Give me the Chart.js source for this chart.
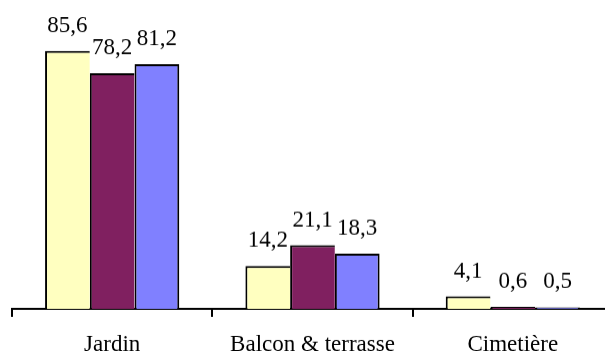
<!DOCTYPE html>
<html>
<head>
<meta charset="utf-8">
<script src="https://cdn.jsdelivr.net/npm/chart.js@4/dist/chart.umd.min.js"></script>
<style>
  html, body { margin: 0; padding: 0; background: #ffffff; overflow: hidden; }
  #wrap { position: relative; width: 614px; height: 371.5px; }
</style>
</head>
<body>
<div id="wrap"><canvas id="c"></canvas></div>
<script>
const categories = ["Jardin", "Balcon & terrasse", "Cimetière"];
const series1 = [85.6, 14.2, 4.1];
const series2 = [78.2, 21.1, 0.6];
const series3 = [81.2, 18.3, 0.5];
const seriesColors = ["#FFFFC0", "#802060", "#8080FF"];

const fmt = v => v.toFixed(1).replace('.', ',');

const labelPlugin = {
  id: 'valueLabels',
  afterDatasetsDraw(chart) {
    const ctx = chart.ctx;
    ctx.save();
    ctx.font = '23px "Liberation Serif", "Times New Roman", serif';
    ctx.fillStyle = '#000000';
    ctx.textAlign = 'center';
    ctx.textBaseline = 'alphabetic';
    chart.data.datasets.forEach((ds, di) => {
      const meta = chart.getDatasetMeta(di);
      meta.data.forEach((el, i) => {
        ctx.fillText(fmt(ds.data[i]), el.x, el.y - 19);
      });
    });
    ctx.restore();
  }
};

const mk = (label, data, color, last) => ({
  label, data,
  backgroundColor: color,
  borderColor: '#000000',
  borderWidth: { top: 2, left: 2, right: last ? 2 : 0, bottom: 0 },
  borderSkipped: false,
  barPercentage: 1.0,
  categoryPercentage: 0.67
});

new Chart(document.getElementById('c'), {
  type: 'bar',
  data: {
    labels: categories,
    datasets: [
      mk('S1', series1, seriesColors[0], false),
      mk('S2', series2, seriesColors[1], false),
      mk('S3', series3, seriesColors[2], true)
    ]
  },
  options: {
    responsive: true,
    maintainAspectRatio: false,
    animation: false,
    layout: { padding: { left: 12, right: 1, top: 7.5, bottom: 0 } },
    plugins: { legend: { display: false }, tooltip: { enabled: false } },
    scales: {
      y: { display: false, min: 0, max: 100 },
      x: {
        offset: true,
        border: { display: true, color: '#000000', width: 2 },
        grid: {
          offset: true,
          drawOnChartArea: false,
          drawTicks: true,
          tickLength: 8,
          color: '#000000',
          lineWidth: 2
        },
        ticks: {
          color: '#000000',
          padding: 14,
          maxRotation: 0,
          font: { family: '"Liberation Serif", "Times New Roman", serif', size: 23 }
        }
      }
    }
  },
  plugins: [labelPlugin]
});
</script>
</body>
</html>
